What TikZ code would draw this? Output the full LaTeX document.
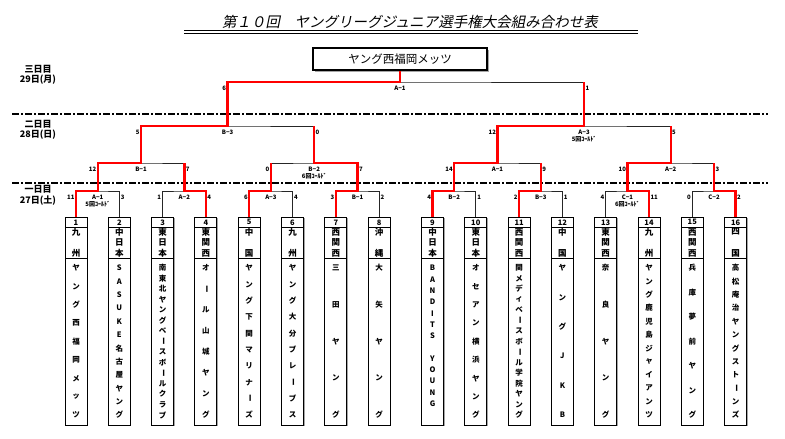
\documentclass[tikz,border=0pt]{standalone}
\usepackage{fontspec}
\usepackage{graphicx}
\setmainfont{Noto Sans CJK JP}
\newfontfamily\titlefont[FakeSlant=0.2]{Noto Sans CJK JP}
\usetikzlibrary{shadows}

\newcommand\vb{\rotatebox[origin=c]{-90}{ー}}

\tikzset{
  bracket/.style={draw=black!85, line width=0.7pt},
  win/.style={draw=red, line width=2.4pt},
  daysep/.style={line width=1.5pt, dash pattern=on 7pt off 2pt on 2pt off 2pt},
  score/.style={font=\fontsize{6}{7}\selectfont\bfseries, inner sep=0.5pt},
  daylabel/.style={font=\fontsize{9}{10.5}\selectfont\bfseries, align=center, inner sep=0pt},
  teambox/.style={draw, line width=0.9pt, minimum width=22pt, minimum height=208pt,
    inner sep=0pt, fill=white, drop shadow={shadow xshift=1pt, shadow yshift=-1pt, fill=black!35, opacity=1}},
  numch/.style={font=\fontsize{7.5}{8}\selectfont\bfseries, inner sep=0pt},
  headch/.style={font=\fontsize{8.5}{9}\selectfont\bfseries, inner sep=0pt},
  bodych/.style={font=\fontsize{7.5}{8}\selectfont\bfseries, inner sep=0pt},
  champbox/.style={draw, line width=2.2pt, minimum width=174pt, minimum height=22pt, fill=white,
    font=\fontsize{11.5}{12}\selectfont, drop shadow={shadow xshift=1.5pt, shadow yshift=-1.5pt, fill=black!35, opacity=1}}
}

% team box: number, x, region, team name
\newcommand\team[4]{%
  \node[teambox] (t#1) at (#2,321) {};
  \draw[line width=0.7pt] (#2-11,227.5) -- (#2+11,227.5);
  \draw[line width=0.9pt] (#2-11,258) -- (#2+11,258);
  \node[numch] (t#1n) at (#2,222.3) {#1};
  \foreach \ch [count=\k] in {#3} {\xdef\nh{\k}}
  \foreach \ch [count=\k] in {#3}
    \node[headch] (t#1h\k) at (#2,{232+(\k-1)*21/(\nh-1)}) {\ch};
  \foreach \ch [count=\k] in {#4} {\xdef\nb{\k}}
  \foreach \ch [count=\k] in {#4}
    \node[bodych] (t#1b\k) at (#2,{268+(\k-1)*147/(\nb-1)}) {\ch};
}

\begin{document}
\begin{tikzpicture}[x=1pt,y=-1pt]
  \useasboundingbox (0,0) rectangle (785,439);
  % Title
  \node[font=\titlefont\fontsize{14.5}{16}\selectfont, inner sep=0pt] (title) at (410,22) {第１０回　ヤングリーグジュニア選手権大会組み合わせ表};
  \draw[line width=0.9pt] (184,30.8) -- (638,30.8);
  \draw[line width=0.5pt] (184,33) -- (638,33);
  % Days
  \node[daylabel] (d3) at (38,75) {三日目\\29日(月)};
  \node[daylabel] (d2) at (38,130) {二日目\\28日(日)};
  \node[daylabel] (d1) at (38,195.5) {一日目\\27日(土)};
  \draw[daysep] (12,114) -- (768,114);
  \draw[daysep] (12,183) -- (768,183);
  % Champion
  \node[champbox] (champ) at (400,59) {ヤング西福岡メッツ};
  % Teams
  \team{1}{76}{九,州}{ヤ,ン,グ,西,福,岡,メ,ッ,ツ}
  \team{2}{119.3}{中,日,本}{S,A,S,U,K,E,名,古,屋,ヤ,ン,グ}
  \team{3}{162.6}{東,日,本}{南,東,北,ヤ,ン,グ,ベ,\vb,ス,ボ,\vb,ル,ク,ラ,ブ}
  \team{4}{205.9}{東,関,西}{オ,\vb,ル,山,城,ヤ,ン,グ}
  \team{5}{249.2}{中,国}{ヤ,ン,グ,下,関,マ,リ,ナ,\vb,ズ}
  \team{6}{292.5}{九,州}{ヤ,ン,グ,大,分,ブ,レ,\vb,ブ,ス}
  \team{7}{335.8}{西,関,西}{三,田,ヤ,ン,グ}
  \team{8}{379.1}{沖,縄}{大,矢,ヤ,ン,グ}
  \team{9}{432.5}{中,日,本}{B,A,N,D,I,T,S,{},Y,O,U,N,G,{}}
  \team{10}{475.8}{東,日,本}{オ,セ,ア,ン,横,浜,ヤ,ン,グ}
  \team{11}{519.1}{西,関,西}{関,メ,デ,ィ,ベ,\vb,ス,ボ,\vb,ル,学,院,ヤ,ン,グ}
  \team{12}{562.4}{中,国}{ヤ,ン,グ,J,K,B}
  \team{13}{605.7}{東,関,西}{奈,良,ヤ,ン,グ}
  \team{14}{649}{九,州}{ヤ,ン,グ,鹿,児,島,ジ,ャ,イ,ア,ン,ツ}
  \team{15}{692.3}{西,関,西}{兵,庫,夢,前,ヤ,ン,グ}
  \team{16}{735.6}{四,国}{高,松,庵,治,ヤ,ン,グ,ス,ト,\vb,ン,ズ}
  % Match points
  \coordinate (a1) at (97.7,191);  \coordinate (a2) at (184.3,191);
  \coordinate (a3) at (270.9,191); \coordinate (a4) at (357.5,191);
  \coordinate (a5) at (454.2,191); \coordinate (a6) at (540.8,191);
  \coordinate (a7) at (627.4,191); \coordinate (a8) at (714,191);
  \coordinate (q1) at (141,163);   \coordinate (q2) at (314.2,163);
  \coordinate (q3) at (497.5,163); \coordinate (q4) at (670.7,163);
  \coordinate (s1) at (227.6,126); \coordinate (s2) at (584.1,126);
  \coordinate (f) at (400,82);
  % Brackets
  \foreach \m/\l/\r/\nm/\sl/\sr in {
    a1/t1.north/t2.north/A−1/11/3, a2/t3.north/t4.north/A−2/1/4,
    a3/t5.north/t6.north/A−3/6/4, a4/t7.north/t8.north/B−1/3/2,
    a5/t9.north/t10.north/B−2/4/1, a6/t11.north/t12.north/B−3/2/1,
    a7/t13.north/t14.north/C−1/4/11, a8/t15.north/t16.north/C−2/0/2,
    q1/a1/a2/B−1/12/7, q2/a3/a4/B−2/0/7, q3/a5/a6/A−1/14/9, q4/a7/a8/A−2/10/3,
    s1/q1/q2/B−3/5/0, s2/q3/q4/A−3/12/5, f/s1/s2/A−1/6/1}
  {
    \draw[bracket] (\l) |- (\m) -| (\r);
    \node[score, anchor=east, xshift=-0.8pt, yshift=-6.5pt] (\m-sl) at (\l |- \m) {\sl};
    \node[score, anchor=west, xshift=0.8pt, yshift=-6.5pt] (\m-sr) at (\r |- \m) {\sr};
    \node[score, yshift=-6.5pt] (\m-nm) at (\m) {\nm};
  }
  \node[score, yshift=-13pt] (a1-cg) at (a1) {5回ｺｰﾙﾄﾞ};
  \node[score, yshift=-13pt] (a7-cg) at (a7) {6回ｺｰﾙﾄﾞ};
  \node[score, yshift=-13pt] (q2-cg) at (q2) {6回ｺｰﾙﾄﾞ};
  \node[score, yshift=-13pt] (s2-cg) at (s2) {5回ｺｰﾙﾄﾞ};
  % Winners
  \draw[win] (t1.north) |- (a1) |- (q1) |- (s1) |- (f) -- (champ.south);
  \draw[win] (t4.north) |- (a2) -- (a2 |- q1);
  \draw[win] (t5.north) |- (a3) -- (a3 |- q2);
  \draw[win] (t7.north) |- (a4) |- (q2) -- (q2 |- s1);
  \draw[win] (t9.north) |- (a5) |- (q3) |- (s2) -- (s2 |- f);
  \draw[win] (t11.north) |- (a6) -- (a6 |- q3);
  \draw[win] (t14.north) |- (a7) |- (q4) -- (q4 |- s2);
  \draw[win] (t16.north) |- (a8) -- (a8 |- q4);
\end{tikzpicture}
\end{document}
